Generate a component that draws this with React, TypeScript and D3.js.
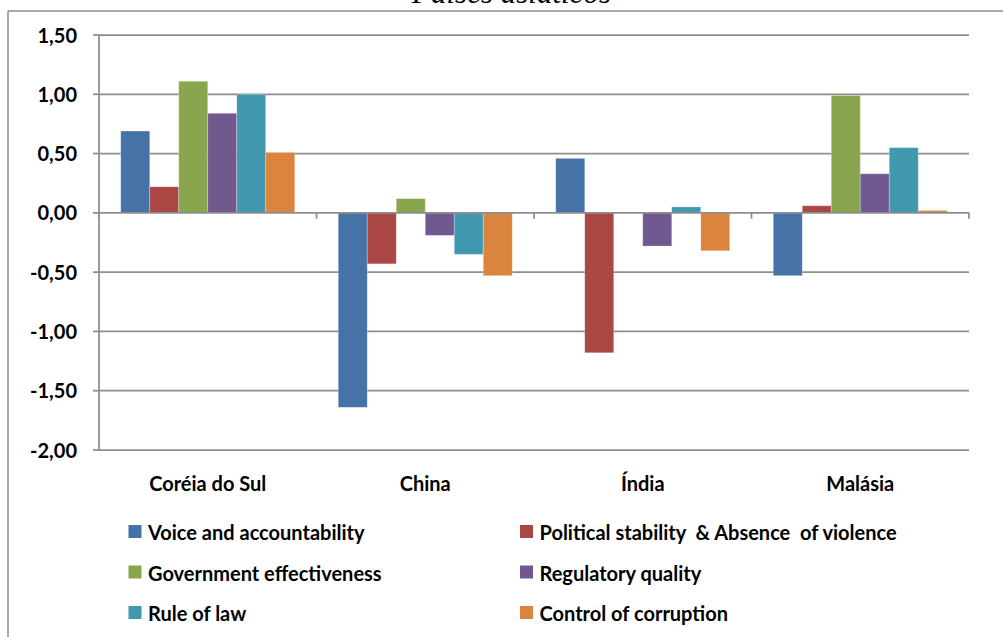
import React from "react";
import * as d3 from "d3";

const title = "Países asiáticos";
const categories = ["Coréia do Sul", "China", "Índia", "Malásia"];
const seriesNames = [
  "Voice and accountability",
  "Political stability  & Absence  of violence",
  "Government effectiveness",
  "Regulatory quality",
  "Rule of law",
  "Control of corruption",
];
const seriesColors = ["#4572A7", "#AA4643", "#89A54E", "#71588F", "#4198AF", "#DB843D"];
// values[series][category]
const voice = [0.69, -1.64, 0.46, -0.53];
const political = [0.22, -0.43, -1.18, 0.06];
const government = [1.11, 0.12, 0.0, 0.99];
const regulatory = [0.84, -0.19, -0.28, 0.33];
const ruleOfLaw = [1.0, -0.35, 0.05, 0.55];
const corruption = [0.51, -0.53, -0.32, 0.02];
const seriesValues = [voice, political, government, regulatory, ruleOfLaw, corruption];
const yTicks = [1.5, 1.0, 0.5, 0.0, -0.5, -1.0, -1.5, -2.0];

const W = 1003;
const H = 637;
const plotLeft = 99;
const plotRight = 969;
const plotTop = 35;
const plotBottom = 450;
const font = "Lato, 'Open Sans', sans-serif";
const gridColor = "#8e8e8e";

export default function App() {
  const y = d3.scaleLinear().domain([-2, 1.5]).range([plotBottom, plotTop]);
  const x0 = d3.scaleBand<string>().domain(categories).range([plotLeft, plotRight]).padding(0);
  const x1 = d3
    .scaleBand<number>()
    .domain(d3.range(seriesNames.length))
    .range([0, x0.bandwidth()])
    .paddingInner(0)
    .paddingOuter(0.75);
  const fmt = (v: number) => d3.format(".2f")(v).replace(".", ",").replace("−", "-");
  const zeroY = y(0);
  const boundaries = categories.map((c) => x0(c) as number).concat([plotRight]);

  const legendCols = [128.5, 520];
  const legendRows = [540, 580.5, 621];

  return (
    <svg
      width={W}
      height={H}
      style={{ position: "absolute", left: 0, top: 0, display: "block", background: "#fff" }}
    >
      {/* outer frame */}
      <line x1={8} y1={11} x2={W + 5} y2={11} stroke={gridColor} strokeWidth={1.5} />
      <line x1={8} y1={11} x2={8} y2={H + 5} stroke={gridColor} strokeWidth={1.5} />
      <text
        x={511.5}
        y={3}
        textAnchor="middle"
        fontFamily="'Liberation Serif', 'Times New Roman', serif"
        fontStyle="italic"
        fontSize={31}
      >
        {title}
      </text>

      {/* gridlines */}
      {yTicks.map((t) => (
        <g key={t}>
          {t !== 0 && (
            <line x1={plotLeft} x2={plotRight} y1={y(t)} y2={y(t)} stroke={gridColor} strokeWidth={1.75} />
          )}
          <line x1={plotLeft - 6} x2={plotLeft} y1={y(t)} y2={y(t)} stroke={gridColor} strokeWidth={1.75} />
          <text
            x={77}
            y={y(t) + 7.5}
            textAnchor="end"
            fontFamily={font}
            fontWeight={700}
            fontSize={20}
            fill="#000"
          >
            {fmt(t)}
          </text>
        </g>
      ))}

      {/* bars */}
      {seriesValues.map((vals, si) =>
        vals.map((v, ci) => {
          const bx = (x0(categories[ci]) as number) + (x1(si) as number);
          const top = Math.min(y(v), zeroY);
          const h = Math.abs(y(v) - zeroY);
          return (
            <rect
              key={`${si}-${ci}`}
              x={bx}
              y={top}
              width={x1.bandwidth()}
              height={h}
              fill={seriesColors[si]}
              stroke="rgba(255,255,255,0.35)"
              strokeWidth={0.8}
            />
          );
        })
      )}

      {/* axes */}
      <line x1={plotLeft} x2={plotLeft} y1={plotTop} y2={plotBottom} stroke={gridColor} strokeWidth={1.75} />
      <line x1={plotLeft} x2={plotRight} y1={zeroY} y2={zeroY} stroke={gridColor} strokeWidth={1.75} />
      {boundaries.map((bx, i) => (
        <line key={i} x1={bx} x2={bx} y1={zeroY} y2={zeroY + 6} stroke={gridColor} strokeWidth={1.75} />
      ))}

      {/* category labels */}
      {categories.map((c) => (
        <text
          key={c}
          x={(x0(c) as number) + x0.bandwidth() / 2}
          y={491}
          textAnchor="middle"
          fontFamily={font}
          fontWeight={700}
          fontSize={20}
          fill="#000"
        >
          {c}
        </text>
      ))}

      {/* legend */}
      {seriesNames.map((name, i) => {
        const lx = legendCols[i % 2];
        const ly = legendRows[Math.floor(i / 2)];
        return (
          <g key={name}>
            <rect x={lx} y={ly - 15} width={13} height={13} fill={seriesColors[i]} />
            <text
              x={lx + 19.5}
              y={ly}
              fontFamily={font}
              fontWeight={700}
              fontSize={20}
              fill="#000"
              style={{ whiteSpace: "pre" }}
            >
              {name}
            </text>
          </g>
        );
      })}
    </svg>
  );
}
